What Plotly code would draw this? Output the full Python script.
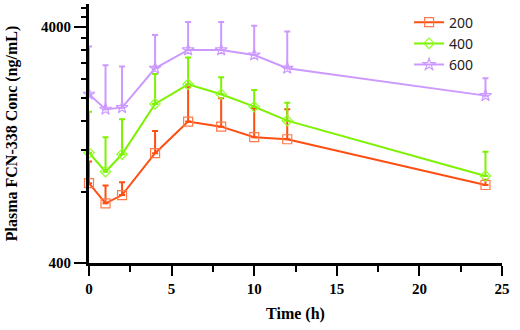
import plotly.graph_objects as go

# Sampling times (h)
time_h = [0, 1, 2, 4, 6, 8, 10, 12, 24]

# Mean plasma concentration (ng/mL) per dose group
conc_200 = [871, 716, 776, 1167, 1588, 1512, 1364, 1337, 856]
conc_400 = [1173, 975, 1155, 1887, 2285, 2075, 1837, 1603, 935]
conc_600 = [2075, 1792, 1820, 2672, 3196, 3196, 3042, 2672, 2046]

# Standard deviation (upper error bars only)
sd_200 = [204, 135, 103, 282, 632, 482, 446, 454, 44]
sd_400 = [577, 387, 469, 641, 681, 373, 326, 307, 249]
sd_600 = [1225, 960, 896, 1026, 1003, 1003, 998, 1148, 379]

dose_labels = ["200", "400", "600"]

series = [
    (dose_labels[0], conc_200, sd_200, "#FF4E12", "#FF7A4A", "square-open", 9),
    (dose_labels[1], conc_400, sd_400, "#7CF200", "#8CFF20", "diamond-open", 8),
    (dose_labels[2], conc_600, sd_600, "#CC99FF", "#CC99FF", "star-open", 9),
]

fig = go.Figure()
for name, y, sd, col, mcol, sym, size in series:
    fig.add_trace(go.Scatter(
        x=time_h, y=y, name=name, mode="lines+markers",
        line=dict(color=col, width=2),
        marker=dict(symbol=sym, size=size, color=mcol, line=dict(width=1.2, color=mcol)),
        error_y=dict(type="data", array=sd, arrayminus=[0] * len(sd), symmetric=False,
                     color=col, thickness=2, width=3),
        cliponaxis=False,
    ))

serif = "Liberation Serif"
minor_y = [v for v in range(800, 5000, 400) if v != 4000]

fig.update_layout(
    width=520, height=330,
    margin=dict(l=89, r=18, t=4, b=67),
    paper_bgcolor="white", plot_bgcolor="white",
    showlegend=True,
    legend=dict(x=0.775, y=0.99, xanchor="left", yanchor="top",
                font=dict(family="Noto Sans", size=14, color="#222"),
                bgcolor="rgba(0,0,0,0)", tracegroupgap=0, itemwidth=30),
    xaxis=dict(
        range=[0, 25], tickvals=[0, 5, 10, 15, 20, 25],
        ticks="outside", ticklen=10, tickwidth=2, tickcolor="black",
        minor=dict(tickvals=[2.5, 7.5, 12.5, 17.5, 22.5], ticks="outside",
                   ticklen=6, tickwidth=1.5, tickcolor="black"),
        showline=True, linecolor="black", linewidth=3,
        showgrid=False, zeroline=False,
        tickfont=dict(family=serif, size=15, color="black", weight="bold"),
        title=dict(text="<b>Time (h)</b>", font=dict(family=serif, size=16, color="black"),
                   standoff=12),
    ),
    yaxis=dict(
        type="log", range=[2.60206, 3.69897],
        tickvals=[400, 4000], ticktext=["400", "4000"],
        ticks="outside", ticklen=12, tickwidth=1.5, tickcolor="black",
        minor=dict(tickvals=minor_y, ticks="outside", ticklen=5, tickwidth=1.5,
                   tickcolor="black"),
        showline=True, linecolor="black", linewidth=3,
        showgrid=False, zeroline=False,
        tickfont=dict(family=serif, size=15, color="black", weight="bold"),
        title=dict(text="<b>Plasma FCN-338 Conc (ng/mL)</b>",
                   font=dict(family=serif, size=16, color="black"), standoff=20),
    ),
)

fig.write_html("out.html")
